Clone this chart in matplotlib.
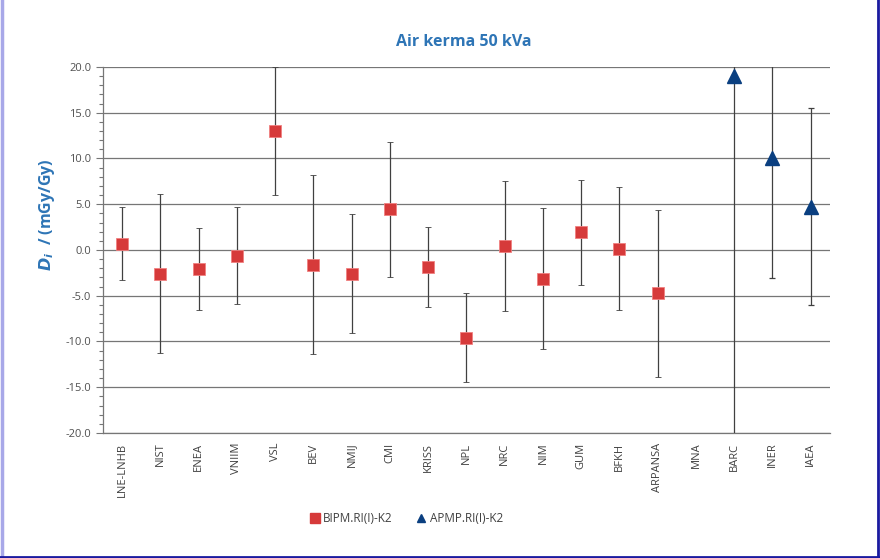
import matplotlib.pyplot as plt
from matplotlib.lines import Line2D
from matplotlib.ticker import MultipleLocator, FormatStrFormatter

plt.rcParams['font.family'] = ['Open Sans', 'DejaVu Sans']

# labs in the order shown on the x axis
labs = ["LNE-LNHB", "NIST", "ENEA", "VNIIM", "VSL", "BEV", "NMIJ", "CMI", "KRISS",
        "NPL", "NRC", "NIM", "GUM", "BFKH", "ARPANSA", "MNA", "BARC", "INER", "IAEA"]

# BIPM.RI(I)-K2 (degrees of equivalence and expanded uncertainty, mGy/Gy)
bipm_labs = ["LNE-LNHB", "NIST", "ENEA", "VNIIM", "VSL", "BEV", "NMIJ", "CMI", "KRISS",
             "NPL", "NRC", "NIM", "GUM", "BFKH", "ARPANSA"]
bipm_d = [0.7, -2.6, -2.1, -0.65, 13.0, -1.6, -2.6, 4.45, -1.85,
          -9.6, 0.45, -3.15, 1.95, 0.15, -4.75]
bipm_u = [4.0, 8.7, 4.5, 5.3, 7.0, 9.8, 6.5, 7.4, 4.4,
          4.85, 7.1, 7.7, 5.75, 6.75, 9.1]

# APMP.RI(I)-K2
apmp_labs = ["BARC", "INER", "IAEA"]
apmp_d = [19.0, 10.1, 4.75]
apmp_u = [40.0, 13.2, 10.8]

red = "#d63a3a"
navy = "#0a3f80"
ebar = "#404040"
gridc = "#767676"

fig = plt.figure(figsize=(8.8, 5.58), dpi=100)
ax = fig.add_axes([0.117, 0.224, 0.826, 0.656])

pos = {name: i for i, name in enumerate(labs)}
bx = [pos[n] for n in bipm_labs]
apx = [pos[n] for n in apmp_labs]

ax.errorbar(bx, bipm_d, yerr=bipm_u, fmt="s", color=red, ms=9, mec="#f08080", mew=0.6,
            ecolor=ebar, elinewidth=0.9, capsize=2.5, capthick=0.9, zorder=3)
ax.errorbar(apx, apmp_d, yerr=apmp_u, fmt="^", color=navy, ms=9.5, mec=navy,
            ecolor=ebar, elinewidth=0.9, capsize=2.5, capthick=0.9, zorder=3)

ax.set_xlim(-0.5, len(labs) - 0.5)
ax.set_ylim(-20, 20)
ax.set_xticks(range(len(labs)))
ax.set_xticklabels(labs, rotation=90, fontsize=8, color="#404040")
ax.tick_params(axis="x", length=0, pad=7)

ax.yaxis.set_major_locator(MultipleLocator(5))
ax.yaxis.set_minor_locator(MultipleLocator(1))
ax.yaxis.set_major_formatter(FormatStrFormatter("%.1f"))
ax.tick_params(axis="y", which="major", labelsize=8, labelcolor="#505050",
               length=5, color=gridc, width=0.8)
ax.tick_params(axis="y", which="minor", length=3, color=gridc, width=0.8)
ax.grid(axis="y", color=gridc, lw=0.9)
ax.set_axisbelow(True)

for s in ["top", "right"]:
    ax.spines[s].set_visible(False)
ax.spines["left"].set_color(gridc)
ax.spines["left"].set_linewidth(0.9)
ax.spines["bottom"].set_color(gridc)
ax.spines["bottom"].set_linewidth(0.9)

fig.text(0.527, 0.925, "Air kerma 50 kVa", ha="center", va="center",
         fontsize=11.5, fontweight="bold", color="#2e75b6")
fig.text(0.053, 0.615, r"$\mathbfit{D_i}$  / (mGy/Gy)", rotation=90, ha="center",
         va="center", fontsize=11.5, fontweight="bold", color="#2e75b6")

handles = [Line2D([], [], ls="none", marker="s", color=red, ms=6.5),
           Line2D([], [], ls="none", marker="^", color=navy, ms=5.5)]
fig.legend(handles, ["BIPM.RI(I)-K2", "APMP.RI(I)-K2"], loc="center",
           bbox_to_anchor=(0.462, 0.071), ncol=2, frameon=False, fontsize=8.5,
           handlelength=0.8, handletextpad=0.3, columnspacing=2.0,
           labelcolor="#404040")

# window-style frame around the chart
fig.add_artist(Line2D([0.002, 0.002], [0, 1], color="#a8a8e8", lw=2.5))
fig.add_artist(Line2D([0.998, 0.998], [0, 1], color="#1a1aa0", lw=2))
fig.add_artist(Line2D([0, 1], [0.002, 0.002], color="#1a1aa0", lw=2))

fig.savefig("out.png", dpi=100)
